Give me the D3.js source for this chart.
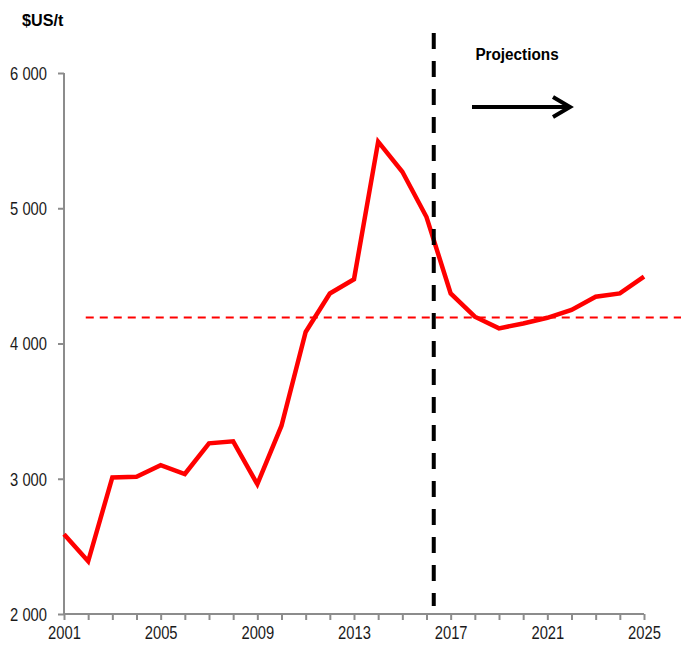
<!DOCTYPE html>
<html>
<head>
<meta charset="utf-8">
<style>
body { margin: 0; background: #fff; }
svg text { font-family: "Liberation Sans Narrow", "Arial Narrow", "Liberation Sans", sans-serif; }
</style>
</head>
<body>
<svg id="chart" width="681" height="648"></svg>
<script src="https://cdn.jsdelivr.net/npm/d3@7"></script>
<script>
// data
var years = [2001, 2002, 2003, 2004, 2005, 2006, 2007, 2008, 2009, 2010, 2011, 2012, 2013,
             2014, 2015, 2016, 2017, 2018, 2019, 2020, 2021, 2022, 2023, 2024, 2025];
var prices = [2590, 2390, 3010, 3015, 3100, 3035, 3262, 3277, 2960, 3392, 4085, 4370, 4475,
              5492, 5270, 4935, 4370, 4198, 4112, 4148, 4190, 4248, 4346, 4370, 4494];
var yTicks = [2000, 3000, 4000, 5000, 6000];
var xLabels = [2001, 2005, 2009, 2013, 2017, 2021, 2025];
var averageLevel = 4193;
var averageStart = 2001.9;
var projectionYear = 2016.3;
var unitLabel = "$US/t";
var projLabel = "Projections";

var narrow = 0.82; // squeeze text horizontally, no narrow font installed

var svg = d3.select("#chart");

var x = d3.scaleLinear().domain([2001, 2025]).range([64, 644]);
var y = d3.scaleLinear().domain([2000, 6000]).range([614, 73]);

var fmt = function(d) { return d3.format(",")(d).replace(",", " "); };

// y axis
var yAxis = svg.append("g")
    .attr("transform", "translate(64,0)")
    .call(d3.axisLeft(y).tickValues(yTicks).tickSize(6).tickPadding(4).tickFormat(fmt));
yAxis.select(".domain").attr("stroke", "#8c8c8c").attr("stroke-width", 2).attr("d", "M0," + y(6000) + "V" + y(2000));
yAxis.selectAll(".tick line").attr("stroke", "#8c8c8c").attr("stroke-width", 2);
yAxis.selectAll(".tick text")
    .attr("fill", "#1a1a1a").style("font-size", "18px").attr("dy", "0.36em")
    .attr("x", -17 / narrow)
    .attr("transform", "scale(" + narrow + ",1)");

// x axis: a tick every year, labels every 4 years
var xAxis = svg.append("g")
    .attr("transform", "translate(0,614)")
    .call(d3.axisBottom(x).tickValues(years).tickSize(6).tickPadding(6)
      .tickFormat(function(d) { return xLabels.indexOf(d) >= 0 ? d : ""; }));
xAxis.select(".domain").attr("stroke", "#8c8c8c").attr("stroke-width", 2).attr("d", "M" + x(2001) + ",0H" + x(2025));
xAxis.selectAll(".tick line").attr("stroke", "#8c8c8c").attr("stroke-width", 2);
xAxis.selectAll(".tick text")
    .attr("fill", "#1a1a1a").style("font-size", "18px")
    .attr("transform", "scale(" + narrow + ",1)");

// unit label
svg.append("text")
    .attr("transform", "translate(22,26) scale(0.95,1)")
    .attr("fill", "#000")
    .style("font-size", "17px").style("font-weight", "bold")
    .text(unitLabel);

// horizontal reference line (dashed red)
svg.append("line")
    .attr("x1", x(averageStart)).attr("x2", 681)
    .attr("y1", y(averageLevel)).attr("y2", y(averageLevel))
    .attr("stroke", "#ff0000").attr("stroke-width", 2)
    .attr("stroke-dasharray", "8,6");

// price line
var line = d3.line()
    .x(function(d, i) { return x(years[i]); })
    .y(function(d) { return y(d); });

svg.append("path")
    .datum(prices)
    .attr("fill", "none")
    .attr("stroke", "#ff0000")
    .attr("stroke-width", 4.5)
    .attr("stroke-linejoin", "miter")
    .attr("d", line);

// projection divider
svg.append("line")
    .attr("x1", x(projectionYear)).attr("x2", x(projectionYear))
    .attr("y1", 33).attr("y2", 606)
    .attr("stroke", "#000").attr("stroke-width", 4)
    .attr("stroke-dasharray", "16,12");

svg.append("text")
    .attr("transform", "translate(517,60) scale(0.9,1)")
    .attr("text-anchor", "middle")
    .attr("fill", "#000")
    .style("font-size", "17px").style("font-weight", "bold")
    .text(projLabel);

// arrow
svg.append("line")
    .attr("x1", 472).attr("x2", 568)
    .attr("y1", 107).attr("y2", 107)
    .attr("stroke", "#000").attr("stroke-width", 4);
svg.append("path")
    .attr("d", "M553,97L570,107L553,117")
    .attr("fill", "none")
    .attr("stroke", "#000").attr("stroke-width", 4)
    .attr("stroke-linejoin", "miter");
</script>
</body>
</html>
